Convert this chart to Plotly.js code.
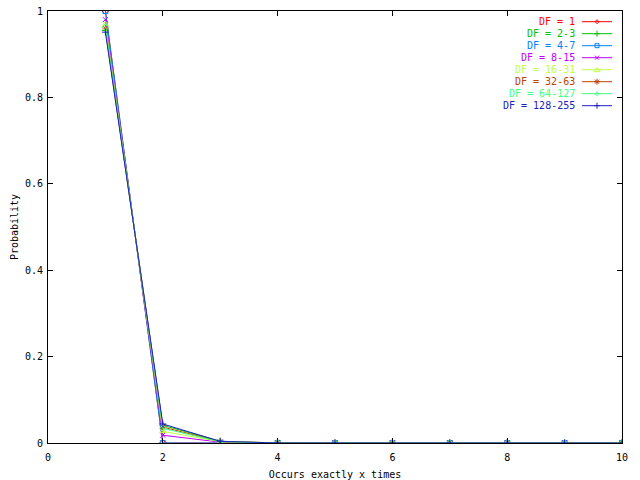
<!DOCTYPE html>
<html>
<head>
<meta charset="utf-8">
<script src="https://cdn.plot.ly/plotly-3.0.1.min.js"></script>
<style>html,body{margin:0;padding:0;background:#fff;}#chart{width:640px;height:480px;}</style>
</head>
<body>
<div id="chart"></div>
<script>
const xValues = [1, 2, 3, 4, 5, 6, 7, 8, 9, 10];
const seriesNames = ["DF = 1", "DF = 2-3", "DF = 4-7", "DF = 8-15", "DF = 16-31", "DF = 32-63", "DF = 64-127", "DF = 128-255"];
const df1      = [1.000, 0.000, 0.000, 0, 0, 0, 0, 0, 0, 0];
const df2_3    = [0.955, 0.041, 0.004, 0, 0, 0, 0, 0, 0, 0];
const df4_7    = [1.000, 0.000, 0.000, 0, 0, 0, 0, 0, 0, 0];
const df8_15   = [0.980, 0.018, 0.002, 0, 0, 0, 0, 0, 0, 0];
const df16_31  = [0.970, 0.027, 0.003, 0, 0, 0, 0, 0, 0, 0];
const df32_63  = [0.960, 0.037, 0.003, 0.0005, 0, 0, 0, 0, 0, 0];
const df64_127 = [0.963, 0.034, 0.003, 0, 0, 0, 0, 0, 0, 0];
const df128_255= [0.951, 0.044, 0.004, 0, 0, 0, 0, 0, 0, 0];
const seriesValues = [df1, df2_3, df4_7, df8_15, df16_31, df32_63, df64_127, df128_255];
const colors = ["#ff0000", "#00c000", "#0080ff", "#c000ff", "#c0ff40", "#c04000", "#40ff80", "#2020c0"];
const symbols = ["diamond-open", "cross-thin-open", "square-open", "x-thin-open", "triangle-up-open", "asterisk-open", "diamond-open", "cross-thin-open"];
const xTicks = [0, 2, 4, 6, 8, 10];
const yTicks = [0, 0.2, 0.4, 0.6, 0.8, 1];

const FONT = "DejaVu Sans Mono, monospace";
const traces = seriesNames.map((name, i) => ({
  x: xValues,
  y: seriesValues[i],
  type: "scatter",
  mode: "lines+markers",
  name: name,
  showlegend: false,
  line: {color: colors[i], width: 1},
  marker: {symbol: symbols[i], size: 5, color: colors[i], line: {color: colors[i], width: 1}}
}));

// gnuplot-style key: right-aligned coloured text, then a line sample with its point glyph
const glyphPaths = {
  "diamond-open": "M -2,0 L 0,2 L 2,0 L 0,-2 Z",
  "cross-thin-open": "M -3,0 L 3,0 M 0,-3 L 0,3",
  "square-open": "M -2,-2 L 2,-2 L 2,2 L -2,2 Z",
  "x-thin-open": "M -2,-2 L 2,2 M -2,2 L 2,-2",
  "triangle-up-open": "M -3,-2 L 3,-2 L 0,2 Z",
  "asterisk-open": "M -3,0 L 3,0 M 0,-3 L 0,3 M -2,-2 L 2,2 M -2,2 L 2,-2"
};
const annotations = [];
const shapes = [];
const plotW = 574, plotH = 432;
seriesNames.forEach((name, i) => {
  const yPix = 10.7 + 12 * i;            // row centre measured from plot top
  const yp = 1 - yPix / plotH;
  annotations.push({xref: "paper", yref: "paper", x: (577 - 48) / plotW, y: yp, xanchor: "right", yanchor: "middle",
    text: name, showarrow: false, font: {family: FONT, size: 10, color: colors[i]}});
  shapes.push({type: "line", xref: "paper", yref: "paper", x0: (582 - 48) / plotW, x1: (612 - 48) / plotW, y0: yp, y1: yp,
    line: {color: colors[i], width: 1}});
  shapes.push({type: "path", xref: "paper", yref: "paper", xsizemode: "pixel", ysizemode: "pixel",
    xanchor: (597 - 48) / plotW, yanchor: yp, path: glyphPaths[symbols[i]], line: {color: colors[i], width: 1}});
});

const layout = {
  width: 640, height: 480,
  margin: {l: 48, r: 18, t: 11, b: 37},
  paper_bgcolor: "#ffffff", plot_bgcolor: "#ffffff",
  font: {family: FONT, size: 10, color: "#000"},
  showlegend: false,
  annotations: annotations,
  shapes: shapes,
  xaxis: {range: [0, 10], tickvals: xTicks, ticktext: xTicks.map(String), showgrid: false, zeroline: false,
          showline: true, linecolor: "#000", linewidth: 1, mirror: "ticks", ticks: "inside", ticklen: 5,
          tickcolor: "#000", ticklabelstandoff: 5,
          title: {text: "Occurs exactly x times", font: {family: FONT, size: 10}, standoff: 12}},
  yaxis: {range: [0, 1], tickvals: yTicks, ticktext: yTicks.map(String), showgrid: false, zeroline: false,
          showline: true, linecolor: "#000", linewidth: 1, mirror: "ticks", ticks: "inside", ticklen: 5,
          tickcolor: "#000", ticklabelstandoff: 2,
          title: {text: "Probability", font: {family: FONT, size: 10}, standoff: 4}}
};
Plotly.newPlot("chart", traces, layout, {displayModeBar: false, staticPlot: true});
</script>
</body>
</html>
